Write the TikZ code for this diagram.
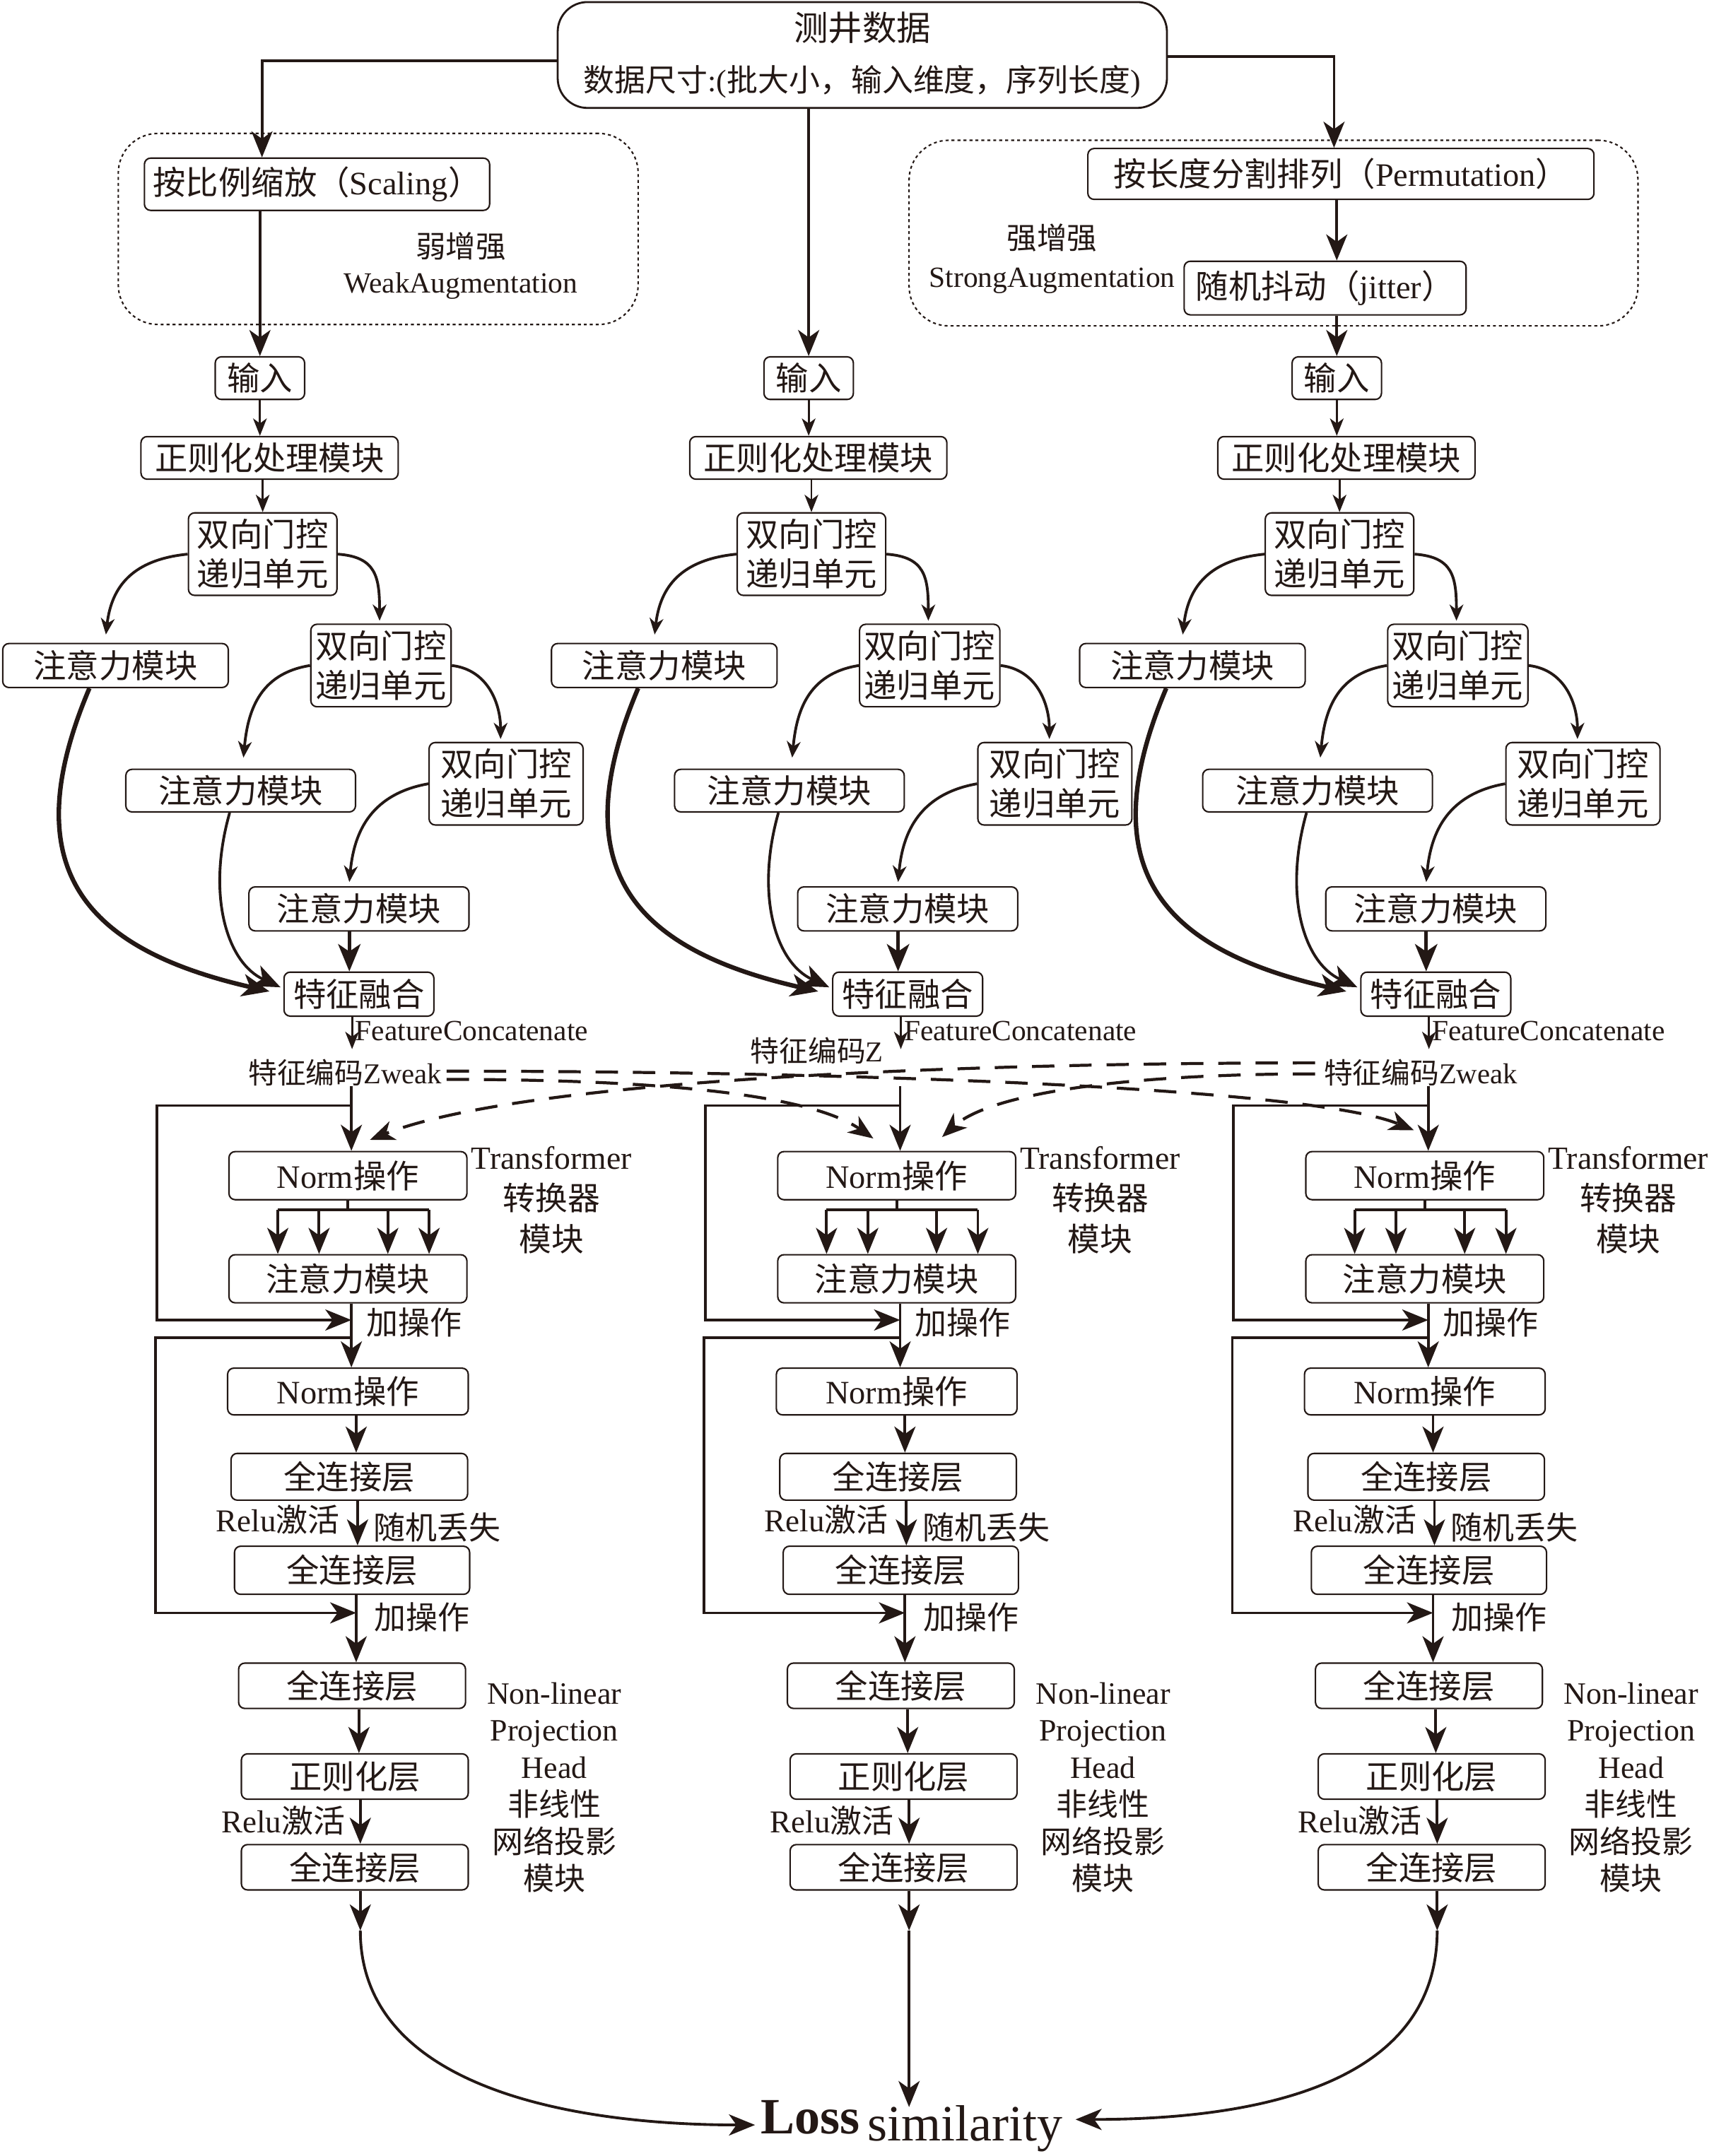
\documentclass[tikz,border=0pt]{standalone}
\usepackage{fontspec}
\setmainfont{Liberation Serif}
\newfontfamily\zhfont{Noto Sans CJK SC}
\newfontfamily\enfont{Liberation Serif}
\usetikzlibrary{arrows.meta,calc}
\newcount\zhcnt
\newXeTeXintercharclass\zhclass
\zhcnt="3000
\loop
  \XeTeXcharclass\zhcnt=\zhclass
  \advance\zhcnt by 1
\ifnum\zhcnt<"A000 \repeat
\zhcnt="FF00
\loop
  \XeTeXcharclass\zhcnt=\zhclass
  \advance\zhcnt by 1
\ifnum\zhcnt<"FF60 \repeat
\XeTeXinterchartoks 0 \zhclass={\zhfont}
\XeTeXinterchartoks 4095 \zhclass={\zhfont}
\XeTeXinterchartoks \zhclass 0={\enfont}
\XeTeXinterchartokenstate=1
\definecolor{ink}{HTML}{231815}
\def\uu{0.19462mm}
\newcommand\fsBox{\fontsize{13.2}{16}\selectfont}
\newcommand\fsTop{\fontsize{13.8}{20.4}\selectfont}
\newcommand\fsTopB{\fontsize{12.5}{20.4}\selectfont}
\newcommand\fsLab{\fontsize{12.1}{14}\selectfont}
\newcommand\fsLabE{\fontsize{11.8}{14}\selectfont}
\newcommand\fsSm{\fontsize{11.8}{14}\selectfont}
\newcommand\fsZ{\fontsize{11.6}{14}\selectfont}
\newcommand\fsOp{\fontsize{12.8}{15}\selectfont}
\newcommand\fsSide{\fontsize{13}{16.5}\selectfont}
\newcommand\fsProj{\fontsize{12.5}{15}\selectfont}
\begin{document}
\begin{tikzpicture}[x=0.19462mm, y=-0.19462mm,
  bx/.style 2 args={draw=ink, line width=0.6pt, rounded corners=2.5pt, inner sep=0pt, align=center, text=ink, minimum width=#1*\uu, minimum height=#2*\uu, font=\fsBox},
  region/.style 2 args={draw=ink, line width=0.6pt, dash pattern=on 1.2pt off 1.2pt, rounded corners=16pt, minimum width=#1*\uu, minimum height=#2*\uu, inner sep=0pt},
  lab/.style={inner sep=0pt, text=ink, align=center},
  ar/.style={draw=ink, line width=1.1pt, -{Stealth[length=10.5pt,width=8.5pt,inset=3pt]}},
  ars/.style={draw=ink, line width=0.8pt, -{Stealth[length=7pt,width=5.5pt,inset=2pt]}},
  arc/.style={draw=ink, line width=1.1pt, -{Stealth[length=6.5pt,width=5.5pt,inset=2pt]}},
  art/.style={draw=ink, line width=#1, -{Stealth[length=11pt,width=9pt,inset=3pt]}},
  lnk/.style={draw=ink, line width=1.1pt},
  dsh/.style={draw=ink, line width=1.2pt, dash pattern=on 9pt off 6pt, -{Stealth[length=10pt,width=8pt,inset=3pt]}},
]
\fill[white] (0,0) rectangle (1246,1568);
\useasboundingbox (0,0) rectangle (1246,1568);

% augmentation regions
\node[region={378}{139}] (wk) at (275,166.5) {};
\node[region={530}{135}] (sg) at (926,169.5) {};

\node[draw=ink, line width=0.8pt, rounded corners=12pt, minimum width=443*\uu, minimum height=77*\uu, inner sep=0pt, align=center, text=ink, font=\fsTop] (top) at (627,40) {测井数据\\{\fsTopB 数据尺寸:(批大小，输入维度，序列长度)}};
\node[bx={251}{38}] (sc) at (230.5,134) {按比例缩放（Scaling）};
\node[bx={368}{37}] (pm) at (975,126.5) {按长度分割排列（Permutation）};
\node[bx={205}{39}] (jt) at (963.5,209.5) {随机抖动（jitter）};
\node[lab, font=\fsLab] (wk1) at (335,179) {弱增强};
\node[lab, font=\fsLabE] (wk2) at (335,208) {WeakAugmentation};
\node[lab, font=\fsLab] (sg1) at (765,173) {强增强};
\node[lab, font=\fsLabE] (sg2) at (765,204) {StrongAugmentation};

\foreach \c/\dx in {L/0,C/399,R/783}{
  % nodes
  \node[bx={65}{31}] (in\c) at (189+\dx,275) {输入};
  \node[bx={187}{31}] (nm\c) at (196+\dx,333) {正则化处理模块};
  \node[bx={108}{60}] (ga\c) at (191+\dx,403) {双向门控\\递归单元};
  \node[bx={164}{32}] (aa\c) at (84+\dx,484) {注意力模块};
  \node[bx={102}{60}] (gb\c) at (277+\dx,484) {双向门控\\递归单元};
  \node[bx={167}{31}] (ab\c) at (175+\dx,575) {注意力模块};
  \node[bx={112}{60}] (gc\c) at (368+\dx,570) {双向门控\\递归单元};
  \node[bx={160}{32}] (ac\c) at (261+\dx,661) {注意力模块};
  \node[bx={109}{32}] (fu\c) at (261+\dx,723) {特征融合};
  \node[lab, font=\fsSm, anchor=west] (fcl\c) at (258+\dx,750) {FeatureConcatenate};
  \node[bx={173}{35}] (na\c) at (253+\dx,855) {Norm操作};
  \node[bx={173}{35}] (at\c) at (253+\dx,930) {注意力模块};
  \node[bx={175}{34}] (nb\c) at (253+\dx,1012) {Norm操作};
  \node[bx={172}{34}] (fa\c) at (254+\dx,1074) {全连接层};
  \node[bx={171}{35}] (fb\c) at (256+\dx,1142) {全连接层};
  \node[bx={165}{33}] (fc\c) at (256+\dx,1226) {全连接层};
  \node[bx={165}{33}] (ln\c) at (258+\dx,1292) {正则化层};
  \node[bx={165}{33}] (fd\c) at (258+\dx,1358) {全连接层};
  \node[lab, font=\fsOp] (p1\c) at (301+\dx,962) {加操作};
  \node[lab, font=\fsOp] (p2\c) at (307+\dx,1176) {加操作};
  \node[lab, font=\fsOp] (r1\c) at (202+\dx,1105) {Relu激活};
  \node[lab, font=\fsOp] (dr\c) at (318+\dx,1111) {随机丢失};
  \node[lab, font=\fsOp] (r2\c) at (206+\dx,1324) {Relu激活};
  \node[lab, font=\fsSide] (tr\c) at (401+\dx,873) {Transformer\\转换器\\模块};
  \node[lab, font=\fsProj] (pj\c) at (403+\dx,1300) {Non-linear\\Projection\\Head\\非线性\\网络投影\\模块};
  % upper connectors
  \draw[ars] (in\c.south) -- (in\c.south |- nm\c.north);
  \draw[ars] (ga\c.north |- nm\c.south) -- (ga\c.north);
  \draw[arc] (ga\c.west) .. controls +(-40,4) and +(4,-35) .. ($(aa\c.north)+(-7,-6)$);
  \draw[arc] (ga\c.east) .. controls +(28,2) and +(0,-32) .. ($(gb\c.north)+(-1,-2)$);
  \draw[arc] (gb\c.west) .. controls +(-38,6) and +(3,-32) .. ($(ab\c.north)+(2,-8)$);
  \draw[arc] (gb\c.east) .. controls +(26,3) and +(0,-26) .. ($(gc\c.north)+(-4,-2)$);
  \draw[arc] (gc\c.west) .. controls +(-45,8) and +(3,-32) .. ($(ac\c.north)+(-7,-3)$);
  \draw[art=1.4pt] ($(ac\c.south)+(-7,0)$) -- ($(fu\c.north)+(-7,0)$);
  \draw[art=1.8pt] ($(aa\c.south)+(-19,0)$) .. controls +(-55,130) and +(-136,-31) .. ($(fu\c.west)+(-10,-2)$);
  \draw[art=1.1pt] ($(ab\c.south)+(-8,0)$) .. controls +(-17,60) and +(-39,-18) .. ($(fu\c.west)+(-2,-5)$);
  % feature output
  \coordinate (fe\c) at (256+\dx,763);
  \draw[ars] (fu\c.south -| fe\c) -- (fe\c);
  \coordinate (st\c) at (255.5+\dx,790);
  \draw[ar] (st\c) -- (st\c |- na\c.north);
  % residual 1
  \coordinate (b1\c) at (255.5+\dx,804);
  \coordinate (j1\c) at (255.5+\dx,960);
  \draw[ar] (b1\c) -- (114+\dx,804) -- (114+\dx,960) -- (j1\c);
  % fan
  \coordinate (fk\c) at (253+\dx,880);
  \draw[lnk] (na\c.south) -- (fk\c);
  \draw[lnk] (202+\dx,880) -- (312+\dx,880);
  \foreach \xx in {202,232,282,312}{
    \coordinate (fp) at (\xx+\dx,880);
    \draw[ar] (fp) -- (fp |- at\c.north);
  }
  \draw[lnk] (at\c.south -| j1\c) -- (j1\c);
  \draw[ar] (j1\c) -- (j1\c |- nb\c.north);
  % residual 2
  \coordinate (b2\c) at (255.5+\dx,973);
  \coordinate (j2\c) at (259+\dx,1173);
  \draw[ar] (b2\c) -- (113+\dx,973) -- (113+\dx,1173) -- (j2\c);
  \draw[ar] ($(nb\c.south)+(6,0)$) -- ($(fa\c.north)+(5,0)$);
  \draw[ar] ($(fa\c.south)+(6,0)$) -- ($(fb\c.north)+(4,0)$);
  \draw[lnk] (fb\c.south -| j2\c) -- (j2\c);
  \draw[ar] (j2\c) -- (j2\c |- fc\c.north);
  \draw[ar] ($(fc\c.south)+(5,0)$) -- ($(ln\c.north)+(3,0)$);
  \draw[ar] ($(ln\c.south)+(4,0)$) -- ($(fd\c.north)+(4,0)$);
  \coordinate (en\c) at (262+\dx,1404);
  \draw[ar] (fd\c.south -| en\c) -- (en\c);
}

% top arrows
\draw[ar] ($(top.west)+(0,4)$) -| ($(sc.north)+(-40,0)$);
\draw[ar] (sc.south -| inL.north) -- (inL.north);
\draw[ar] (top.south -| inC.north) -- (inC.north);
\draw[ar] ($(top.east)+(0,1)$) -| ($(pm.north)+(-5,0)$);
\draw[ar] (pm.south -| inR.north) -- (jt.north -| inR.north);
\draw[ar] (jt.south -| inR.north) -- (inR.north);

% feature codes
\node[lab, font=\fsZ] (zwL) at (251,780) {特征编码Zweak};
\node[lab, font=\fsZ] (zC) at (594,764) {特征编码Z};
\node[lab, font=\fsZ] (zwR) at (1033,780) {特征编码Zweak};

% crossing dashed connectors
\draw[dsh] ($(zwL.east)+(3,5)$) .. controls +(155,0) and +(-46,-32) .. ($(naC.north)+(-17,-9)$);
\draw[dsh] ($(zwL.east)+(3,-1)$) .. controls +(275,0) and +(-78,-32) .. ($(naR.north)+(-8,-15)$);
\draw[dsh] ($(zwR.west)+(-6,-7)$) .. controls +(-257,0) and +(111,-44) .. ($(naL.north)+(16,-8)$);
\draw[dsh] ($(zwR.west)+(-6,1)$) .. controls +(-137,0) and +(35,-32) .. ($(naC.north)+(33,-10)$);

% loss
\node[inner sep=0pt, text=ink, anchor=base west, font=\fontsize{20.5}{24}\selectfont] (loss) at (553,1552) {\textbf{Loss}\hspace{3pt}\raisebox{-2.8pt}{similarity}};
\draw[ar] (enL) .. controls +(0,116) and +(-129,0) .. ($(loss.west)+(-4,-1)$);
\draw[ar] (enC) -- ($(enC |- loss.north)+(0,5)$);
\draw[ar] (enR) .. controls +(0,116) and +(123,0) .. ($(loss.east)+(9,-5)$);
\end{tikzpicture}
\end{document}
